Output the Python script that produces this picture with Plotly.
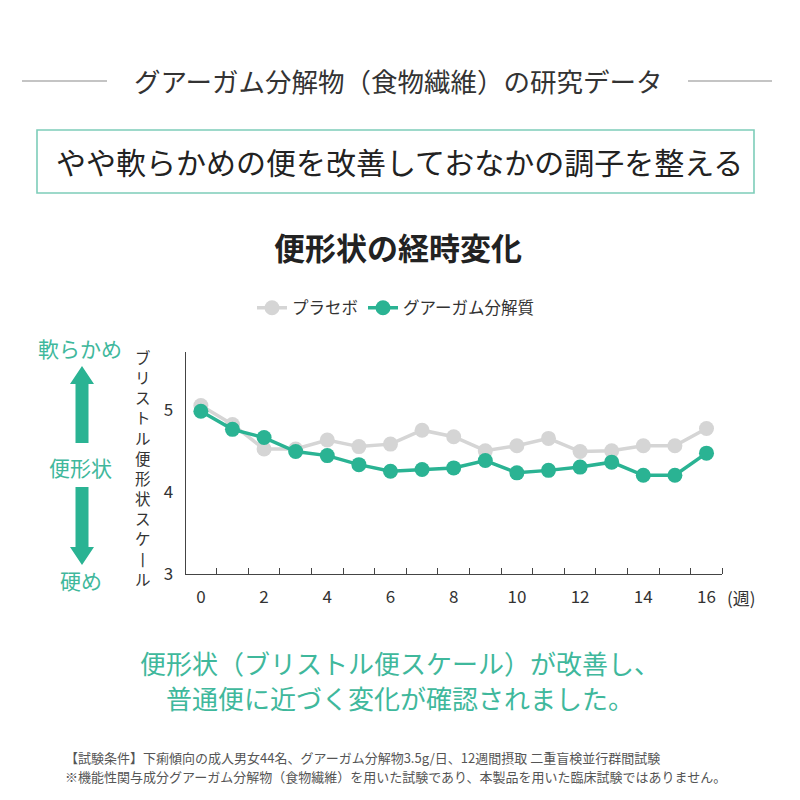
import plotly.graph_objects as go

weeks = list(range(0, 17))
placebo = [5.05, 4.82, 4.52, 4.52, 4.63, 4.55, 4.58, 4.75, 4.67, 4.50, 4.56, 4.65, 4.49, 4.50, 4.56, 4.56, 4.77]
guar = [4.98, 4.76, 4.66, 4.49, 4.44, 4.33, 4.25, 4.27, 4.29, 4.38, 4.23, 4.26, 4.30, 4.36, 4.20, 4.20, 4.47]
series_names = ["プラセボ", "グアーガム分解質"]
x_tickvals = [0, 2, 4, 6, 8, 10, 12, 14, 16]
y_tickvals = [3, 4, 5]

GREEN = "#2ab393"
GRAY = "#d5d5d5"
TEAL_TEXT = "#3fb89c"
FONT = "Noto Sans CJK JP"
OFF = 8  # page body margin
W = H = 800 - 2 * OFF

def px(x):
    return (x - OFF) / W

def py(y):
    return 1 - (y - OFF) / H

fig = go.Figure()
fig.add_trace(go.Scatter(x=weeks, y=placebo, name=series_names[0], mode="lines+markers",
                         line=dict(color=GRAY, width=3.5), marker=dict(color=GRAY, size=15)))
fig.add_trace(go.Scatter(x=weeks, y=guar, name=series_names[1], mode="lines+markers",
                         line=dict(color=GREEN, width=3.5), marker=dict(color=GREEN, size=15)))

fig.update_layout(
    width=W, height=H, margin=dict(l=0, r=0, t=0, b=0, pad=0, autoexpand=False),
    paper_bgcolor="white", plot_bgcolor="white",
    font=dict(family=FONT, color="#333333"),
    showlegend=True,
    legend=dict(orientation="h", x=px(396), xanchor="center", y=py(308), yanchor="middle",
                font=dict(size=16.5, color="#333333"), itemwidth=30, traceorder="normal",
                bgcolor="rgba(0,0,0,0)"),
    xaxis=dict(domain=[px(185.7), px(722.3)], range=[-0.48, 16.5], showgrid=False, zeroline=False,
               showline=True, linecolor="#444444", linewidth=1.2, automargin=False,
               tickmode="array", tickvals=x_tickvals, ticks="", tickfont=dict(size=17, color="#333333"),
               ticklabelstandoff=8,
               minor=dict(tickmode="linear", tick0=0.5, dtick=1, ticks="inside", ticklen=6,
                          tickcolor="#444444", tickwidth=1.2, showgrid=False)),
    yaxis=dict(domain=[py(573.7), py(351.7)], range=[3, 5.707], showgrid=False, zeroline=False,
               showline=True, linecolor="#444444", linewidth=1.2, automargin=False,
               tickmode="array", tickvals=y_tickvals, ticks="", tickfont=dict(size=17, color="#333333"),
               ticklabelstandoff=8),
)

shapes = []
# header lines
shapes.append(dict(type="line", xref="paper", yref="paper", x0=px(22), x1=px(107), y0=py(81), y1=py(81),
                   line=dict(color="#8a8a8a", width=1.2)))
shapes.append(dict(type="line", xref="paper", yref="paper", x0=px(688), x1=px(772), y0=py(81), y1=py(81),
                   line=dict(color="#8a8a8a", width=1.2)))
# box
shapes.append(dict(type="rect", xref="paper", yref="paper", x0=px(37), x1=px(754), y0=py(193), y1=py(130),
                   line=dict(color="#7dcdb9", width=1.6)))
# arrows
cx = 82
up = (f"M {px(cx-6.5)} {py(443)} L {px(cx-6.5)} {py(384)} L {px(cx-12)} {py(384)} L {px(cx)} {py(366)} "
      f"L {px(cx+12)} {py(384)} L {px(cx+6.5)} {py(384)} L {px(cx+6.5)} {py(443)} Z")
dn = (f"M {px(cx-6.5)} {py(487)} L {px(cx-6.5)} {py(547)} L {px(cx-12)} {py(547)} L {px(cx)} {py(565)} "
      f"L {px(cx+12)} {py(547)} L {px(cx+6.5)} {py(547)} L {px(cx+6.5)} {py(487)} Z")
for p in (up, dn):
    shapes.append(dict(type="path", xref="paper", yref="paper", path=p, fillcolor=GREEN,
                       line=dict(color=GREEN, width=0)))
fig.update_layout(shapes=shapes)

def ann(text, x, y, size, color="#333333", xanchor="center", bold=False, yanchor="middle", align="center"):
    fig.add_annotation(text=f"<b>{text}</b>" if bold else text, xref="paper", yref="paper",
                       x=px(x), y=py(y), xanchor=xanchor, yanchor=yanchor, showarrow=False, align=align,
                       font=dict(size=size, color=color, family=FONT))

ann("グアーガム分解物（食物繊維）の研究データ", 398, 80, 26.5)
ann("やや軟らかめの便を改善しておなかの調子を整える", 399, 161, 30, color="#222222")
ann("便形状の経時変化", 398, 247, 31, color="#222222", bold=True)
ann("軟らかめ", 80, 348, 21, color=TEAL_TEXT)
ann("便形状", 80, 467, 21, color=TEAL_TEXT)
ann("硬め", 81, 580, 21, color=TEAL_TEXT)
ann("<br>".join(list("ブリストル便形状スケ丨ル")), 143, 468, 15.5)
ann("(週)", 725, 597, 17, xanchor="left")
ann("便形状（ブリストル便スケール）が改善し、", 400, 662, 26, color=TEAL_TEXT)
ann("普通便に近づく変化が確認されました。", 400, 697, 26, color=TEAL_TEXT)
ann("【試験条件】下痢傾向の成人男女44名、グアーガム分解物3.5g/日、12週間摂取 二重盲検並行群間試験",
    63, 757.5, 13, color="#555555", xanchor="left", align="left")
ann("※機能性関与成分グアーガム分解物（食物繊維）を用いた試験であり、本製品を用いた臨床試験ではありません。",
    63, 776, 13, color="#555555", xanchor="left", align="left")

fig.write_html("out.html")
